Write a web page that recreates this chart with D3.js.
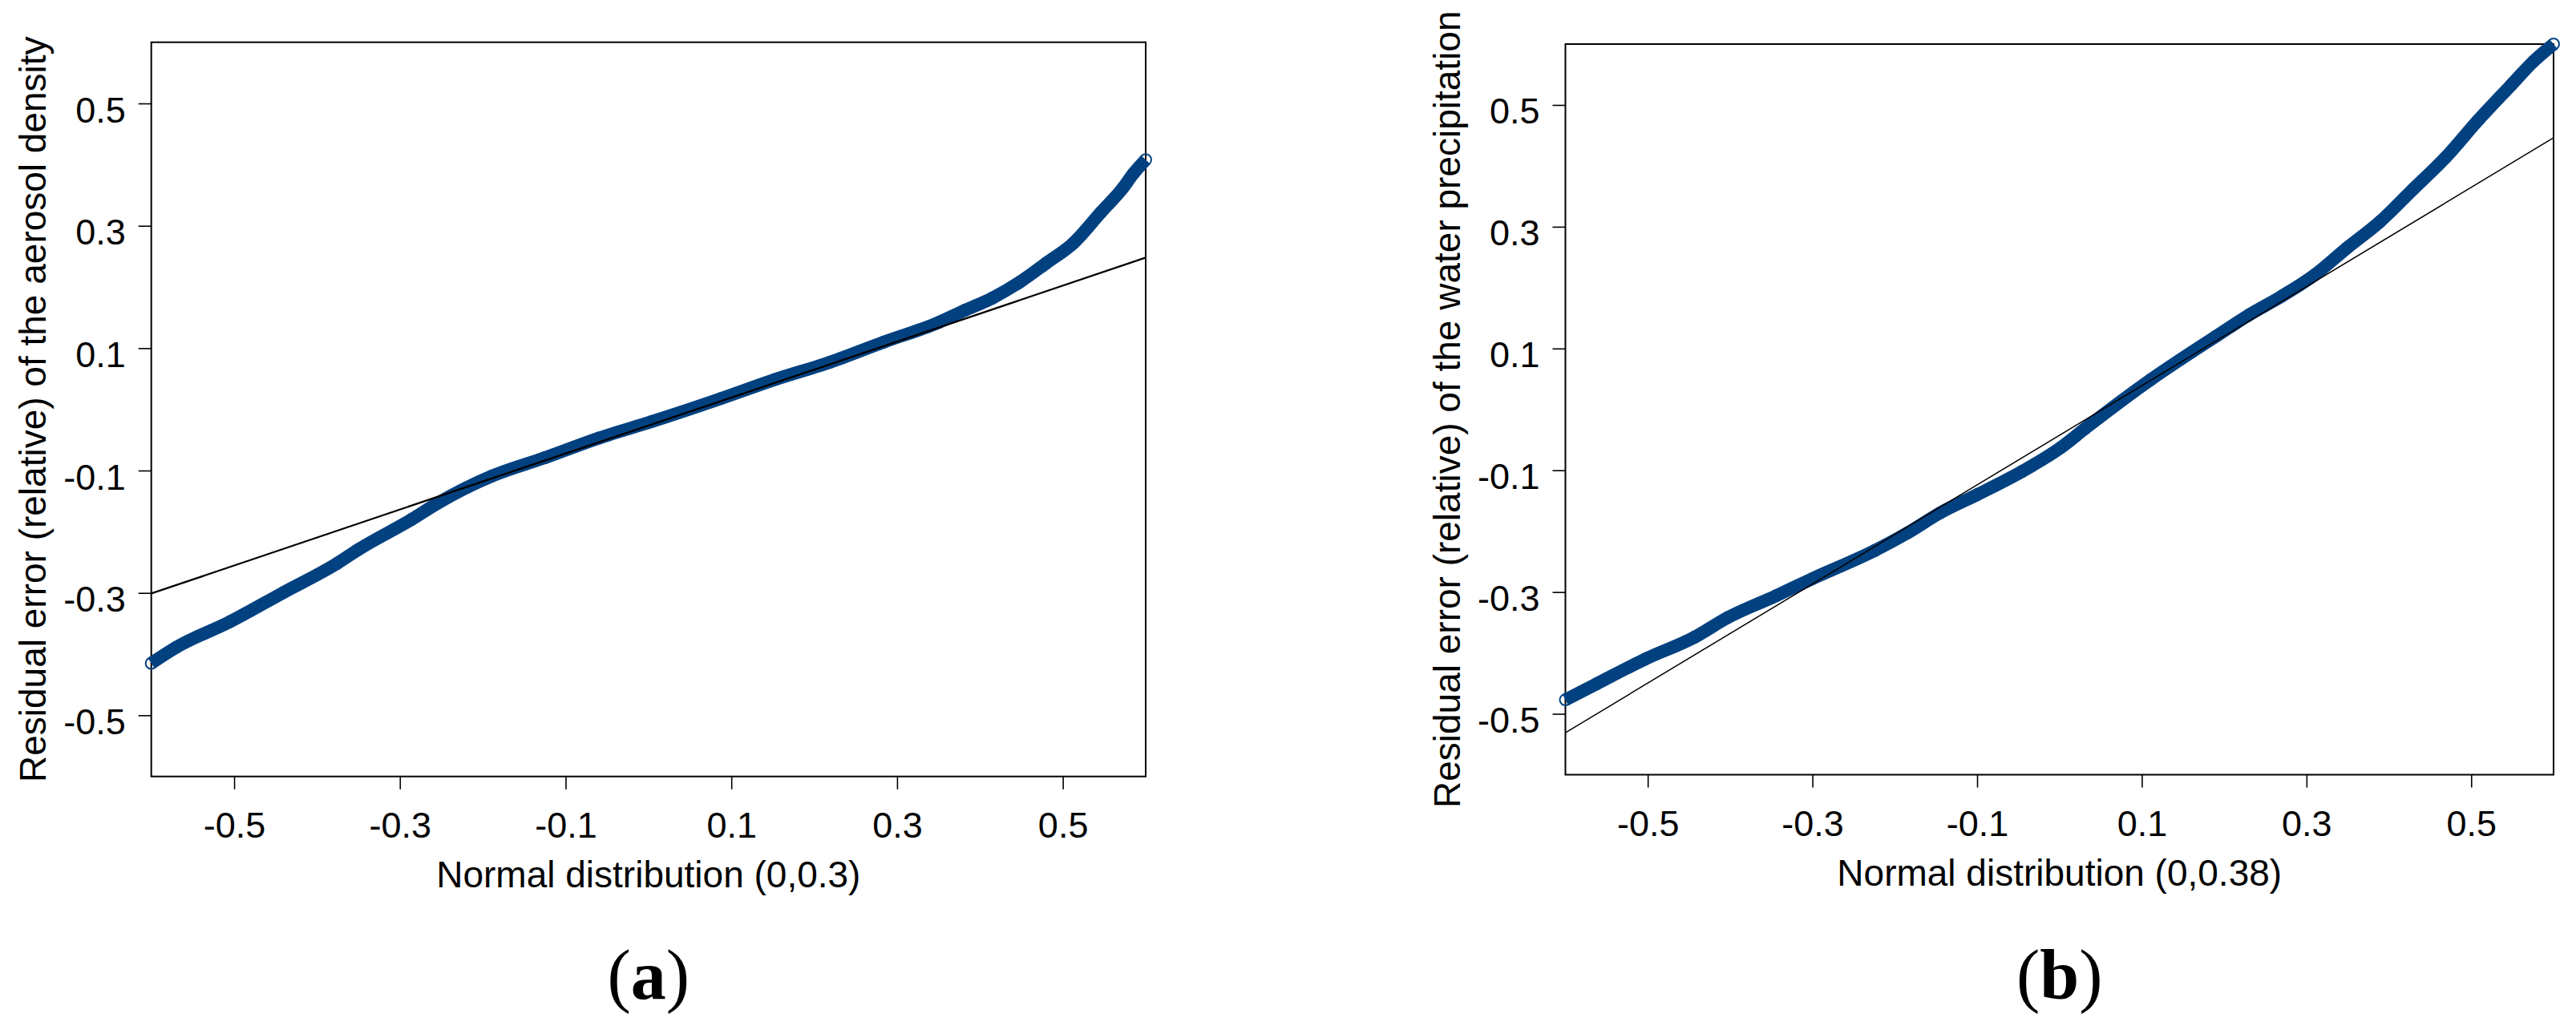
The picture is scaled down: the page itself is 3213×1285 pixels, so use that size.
<!DOCTYPE html>
<html>
<head>
<meta charset="utf-8">
<script src="https://cdn.jsdelivr.net/npm/d3@7"></script>
<style>
  body { margin: 0; background: #fff; }
  text { font-family: "Liberation Sans", Arial, sans-serif; fill: #000; }
</style>
</head>
<body>
<div id="chart"></div>
<script>
// ticks shared by both panels
const tickVals = [-0.5, -0.3, -0.1, 0.1, 0.3, 0.5];
const domainXY = [-0.6, 0.6];

// panel (a): aerosol density, theoretical quantile vs residual
const theoA = [-0.60, -0.57, -0.505, -0.44, -0.376, -0.35, -0.286, -0.254, -0.189, -0.125, -0.06, 0.004, 0.088,
  0.153, 0.219, 0.284, 0.35, 0.382, 0.415, 0.448, 0.48, 0.513, 0.546, 0.572, 0.585, 0.60];
const residA = [-0.415, -0.389, -0.347, -0.299, -0.252, -0.229, -0.180, -0.153, -0.109, -0.079, -0.047, -0.020, 0.018,
  0.049, 0.077, 0.110, 0.142, 0.162, 0.182, 0.208, 0.239, 0.272, 0.322, 0.361, 0.385, 0.408];
const refXA = [-0.6, 0.6];
const refYA = [-0.301, 0.248];

// panel (b): water precipitation
const theoB = [-0.60, -0.5625, -0.503, -0.443, -0.403, -0.344, -0.30, -0.2245, -0.1847, -0.145, -0.10, -0.0456, 0.0014,
  0.0315, 0.111, 0.19, 0.23, 0.27, 0.31, 0.349, 0.389, 0.429, 0.469, 0.5085, 0.548, 0.576, 0.60];
const residB = [-0.477, -0.451, -0.410, -0.374, -0.342, -0.306, -0.278, -0.232, -0.203, -0.170, -0.140, -0.102, -0.063,
  -0.031, 0.049, 0.120, 0.155, 0.186, 0.221, 0.265, 0.308, 0.361, 0.414, 0.475, 0.532, 0.572, 0.600];
const refXB = [-0.6, 0.6];
const refYB = [-0.531, 0.446];

const W = 3213, H = 1285;
const blue = "#024180";

const svg = d3.select("#chart").append("svg")
  .attr("width", W)
  .attr("height", H);

function drawPanel(p) {
  const x = d3.scaleLinear().domain(domainXY).range([p.left, p.right]);
  const y = d3.scaleLinear().domain(domainXY).range([p.bottom, p.top]);
  const g = svg.append("g");

  // bottom axis
  const xAxis = g.append("g")
    .attr("transform", `translate(0, ${p.bottom})`)
    .call(d3.axisBottom(x).tickValues(tickVals).tickSize(16).tickFormat(d => d.toFixed(1)));
  xAxis.select(".domain").remove();
  xAxis.selectAll(".tick line").attr("stroke-width", 1.6);
  xAxis.selectAll(".tick text")
    .attr("y", 76).attr("dy", 0)
    .style("font-size", "45px")
    .style("font-family", "Liberation Sans, Arial, sans-serif");

  // left axis
  const yAxis = g.append("g")
    .attr("transform", `translate(${p.left}, 0)`)
    .call(d3.axisLeft(y).tickValues(tickVals).tickSize(16).tickFormat(d => d.toFixed(1)));
  yAxis.select(".domain").remove();
  yAxis.selectAll(".tick line").attr("stroke-width", 1.6);
  yAxis.selectAll(".tick text")
    .attr("x", -32).attr("dy", 0).attr("y", 23)
    .style("font-size", "45px")
    .style("font-family", "Liberation Sans, Arial, sans-serif");

  // box
  g.append("rect")
    .attr("x", p.left).attr("y", p.top)
    .attr("width", p.right - p.left).attr("height", p.bottom - p.top)
    .attr("fill", "none").attr("stroke", "#000").attr("stroke-width", 2);

  // sample points: dense run of open circles, shown as a thick band
  const pts = p.theo.map((t, i) => [t, p.resid[i]]);
  g.append("path")
    .datum(pts)
    .attr("fill", "none")
    .attr("stroke", blue)
    .attr("stroke-width", 16)
    .attr("d", d3.line().x(d => x(d[0])).y(d => y(d[1])).curve(d3.curveMonotoneX));

  g.selectAll(".pt")
    .data(pts)
    .enter()
    .append("circle")
    .attr("class", "pt")
    .attr("cx", d => x(d[0]))
    .attr("cy", d => y(d[1]))
    .attr("r", 7)
    .attr("fill", "none")
    .attr("stroke", blue)
    .attr("stroke-width", 2);

  // reference line
  g.append("line")
    .attr("x1", x(p.refX[0])).attr("y1", y(p.refY[0]))
    .attr("x2", x(p.refX[1])).attr("y2", y(p.refY[1]))
    .attr("stroke", "#000")
    .attr("stroke-width", p.lineW);

  // axis titles
  const cx = (p.left + p.right) / 2;
  g.append("text")
    .attr("x", cx).attr("y", p.bottom + 138)
    .attr("text-anchor", "middle")
    .style("font-size", "46px")
    .text(p.xTitle);

  g.append("text")
    .attr("transform", `translate(${p.left - 132}, ${(p.top + p.bottom) / 2}) rotate(-90)`)
    .attr("text-anchor", "middle")
    .style("font-size", "46px")
    .text(p.yTitle);

  // panel caption
  const cap = g.append("text")
    .attr("x", cx).attr("y", 1246)
    .attr("text-anchor", "middle")
    .style("font-family", "Liberation Serif, Times New Roman, serif")
    .style("font-size", "88px");
  cap.append("tspan").text("(");
  cap.append("tspan").style("font-weight", "bold").text(p.label);
  cap.append("tspan").text(")");
}

drawPanel({
  left: 188.7, right: 1429, top: 52.7, bottom: 968.7,
  theo: theoA, resid: residA, refX: refXA, refY: refYA, lineW: 2.3,
  xTitle: "Normal distribution (0,0.3)",
  yTitle: "Residual error (relative) of the aerosol density",
  label: "a"
});

drawPanel({
  left: 1952.5, right: 3185, top: 55, bottom: 966.5,
  theo: theoB, resid: residB, refX: refXB, refY: refYB, lineW: 1.5,
  xTitle: "Normal distribution (0,0.38)",
  yTitle: "Residual error (relative) of the water precipitation",
  label: "b"
});
</script>
</body>
</html>
